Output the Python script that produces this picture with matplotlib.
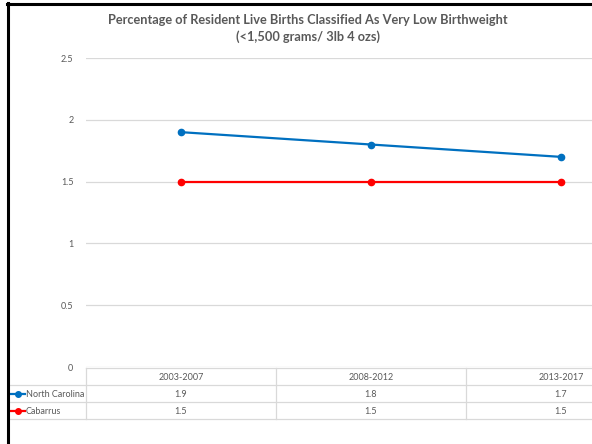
import matplotlib
matplotlib.use("Agg")
import matplotlib.pyplot as plt
from matplotlib.lines import Line2D
from matplotlib import transforms

# series (percent of resident live births)
periods = ['2003-2007', '2008-2012', '2013-2017']
north_carolina = [1.9, 1.8, 1.7]
cabarrus = [1.5, 1.5, 1.5]
series_names = ['North Carolina', 'Cabarrus']
series_colors = ['#0070C0', '#FF0000']
yticks = [0, 0.5, 1, 1.5, 2, 2.5]

plt.rcParams['font.family'] = ['Lato', 'DejaVu Sans']

W, H = 592, 444
fig = plt.figure(figsize=(W / 100, H / 100), dpi=100)

def fx(px):
	return px / W

def fy(py):
	return 1 - py / H

# plot area runs past the right edge (the last table column is cut off)
left, right, top, bottom = 86, 656, 58, 367
ax = fig.add_axes([fx(left), fy(bottom), fx(right - left), fy(top) - fy(bottom)])

grid_color = '#D9D9D9'
text_color = '#595959'

xs = list(range(len(periods)))
for vals, color in zip([north_carolina, cabarrus], series_colors):
	ax.plot(xs, vals, color=color, lw=1.6, marker='o', ms=4.5, zorder=3)

ax.set_xlim(-0.5, len(periods) - 0.5)
ax.set_ylim(0, 2.5)
ax.set_yticks(yticks)
ax.set_yticklabels(['0', '0.5', '1', '1.5', '2', '2.5'])
ax.yaxis.grid(True, color=grid_color, lw=0.9)
ax.set_axisbelow(True)
ax.set_xticks([])
for s in ax.spines.values():
	s.set_visible(False)
ax.tick_params(axis='y', length=0, pad=9, labelsize=6.5, labelcolor=text_color)

# title
fig.text(fx(308), fy(20), 'Percentage of Resident Live Births Classified As Very Low Birthweight',
	ha='center', va='center', fontsize=9.2, fontweight='bold', color='#595959')
fig.text(fx(308), fy(37), '(<1,500 grams/ 3lb 4 ozs)',
	ha='center', va='center', fontsize=9.2, fontweight='bold', color='#595959')

# data table below the plot
row_lines = [368, 385, 402, 419]
trans = transforms.blended_transform_factory(ax.transData, fig.transFigure)
for i, yl in enumerate(row_lines):
	x0 = fx(left) if i == 0 else fx(9)
	fig.add_artist(Line2D([x0, 1], [fy(yl), fy(yl)], color=grid_color, lw=0.9))
for xb in [-0.5, 0.5, 1.5]:
	fig.add_artist(Line2D([xb, xb], [fy(row_lines[0]), fy(row_lines[-1])],
		color=grid_color, lw=0.9, transform=trans))

for x, p in zip(xs, periods):
	ax.text(x, fy(377), p, transform=trans, ha='center', va='center', fontsize=6.5, color=text_color)
for r, (name, vals, color) in enumerate(zip(series_names, [north_carolina, cabarrus], series_colors)):
	yc = fy(394 + 17 * r)
	fig.add_artist(Line2D([fx(10), fx(25)], [yc, yc], color=color, lw=1.6))
	fig.add_artist(Line2D([fx(17.5)], [yc], color=color, marker='o', ms=4))
	fig.text(fx(26), yc, name, ha='left', va='center', fontsize=6.5, color=text_color)
	for x, v in zip(xs, vals):
		ax.text(x, yc, f'{v}', transform=trans, ha='center', va='center', fontsize=6.5, color=text_color)

# frame edges
fig.add_artist(Line2D([fx(8), fx(8)], [fy(3), 0], color='black', lw=2.2))
fig.add_artist(Line2D([fx(7), 1], [fy(4.5), fy(4.5)], color='black', lw=2.2))

fig.savefig('out.png', dpi=100)
